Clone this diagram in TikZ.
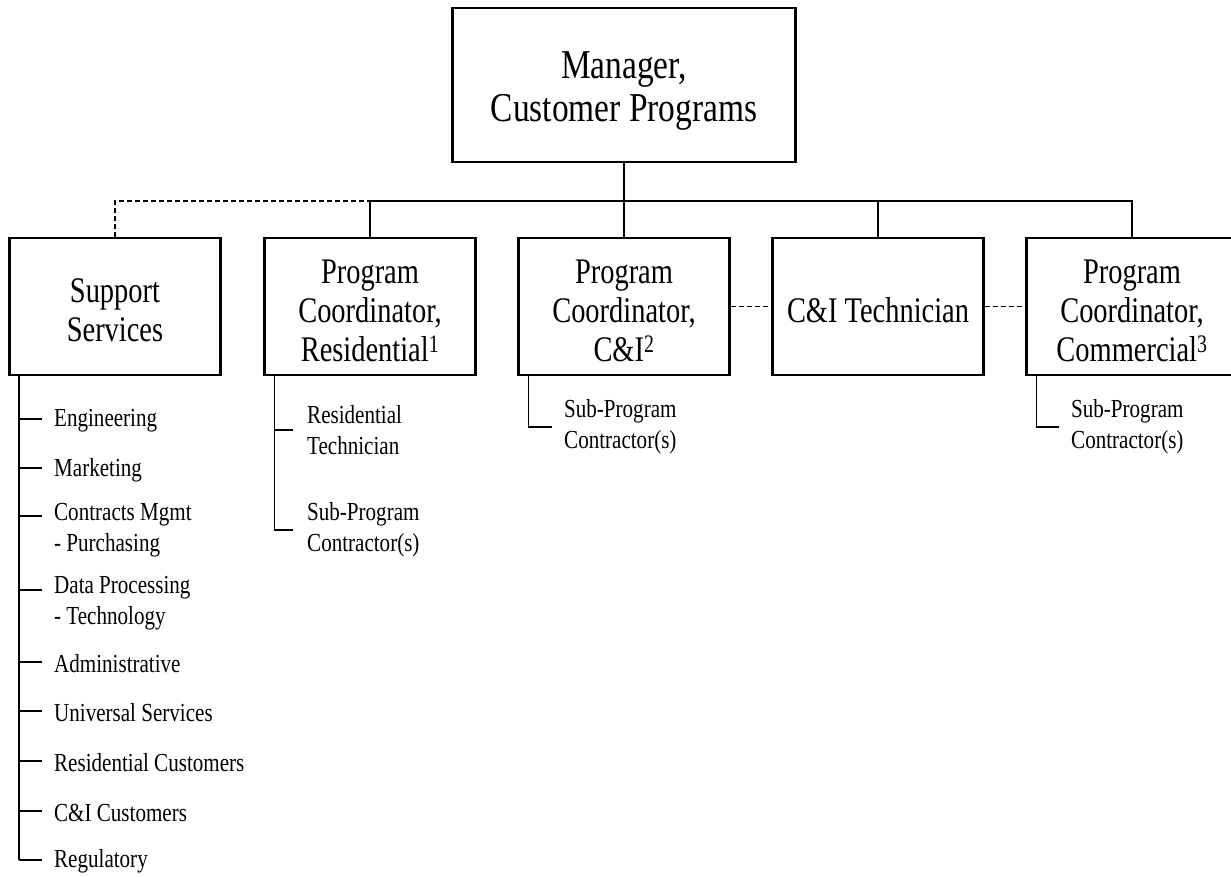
\documentclass[tikz,border=0pt]{standalone}
\usepackage{fontspec}
\setmainfont{Liberation Serif}
\newfontfamily\topfont[FakeStretch=0.815]{Liberation Serif}
\newfontfamily\boxfont[FakeStretch=0.79]{Liberation Serif}
\newfontfamily\itemfont[FakeStretch=0.81]{Liberation Serif}
\begin{document}
\begin{tikzpicture}[x=1pt,y=-1pt,
  orgbox/.style={draw, line width=2.6pt, minimum width=211pt, minimum height=137pt,
    inner sep=0pt},
  topbox/.style={orgbox, minimum width=343pt, minimum height=154pt},
  boxtext/.style={align=center, inner sep=0pt, yshift=-4pt,
    font={\boxfont\fontsize{36}{39}\selectfont}},
  toptext/.style={align=center, inner sep=0pt, yshift=-6pt,
    font={\topfont\fontsize{41}{43}\selectfont}},
  conn/.style={line width=1.2pt},
  spine/.style={line width=1.8pt},
  dashconn/.style={line width=1.2pt, dash pattern=on 5pt off 3pt},
  item/.style={anchor=west, align=left, inner xsep=12pt, inner ysep=0pt,
    font={\itemfont\fontsize{26}{31}\selectfont}},
  itemb/.style={item, inner xsep=14pt}]
\useasboundingbox (0,0) rectangle (1231,876);
\fill[white] (0,0) rectangle (1231,876);

% boxes
\node[topbox, label={[toptext]center:{Manager,\\Customer Programs}}] (mgr) at (624,85) {};
\node[orgbox, label={[boxtext]center:{Support\\Services}}] (sup) at (115,306.5) {};
\node[orgbox, label={[boxtext]center:{Program\\Coordinator,\\Residential\textsuperscript{1}}}] (res) at (370,306.5) {};
\node[orgbox, label={[boxtext]center:{Program\\Coordinator,\\C\&I\textsuperscript{2}}}] (ci) at (624,306.5) {};
\node[orgbox, label={[boxtext]center:{C\&I Technician}}] (tech) at (878,306.5) {};
\node[orgbox, label={[boxtext]center:{Program\\Coordinator,\\Commercial\textsuperscript{3}}}] (com) at (1132,306.5) {};

% bus
\coordinate (bus) at (0,201);
\draw[conn] (mgr.south) -- (ci.north);
\draw[conn] (res.north) -- (res.north |- bus) -- (com.north |- bus) -- (com.north);
\draw[conn] (tech.north) -- (tech.north |- bus);
\draw[dashconn] (sup.north) -- (sup.north |- bus) -- (res.north |- bus);
\draw[dashconn] (ci.east) -- (tech.west);
\draw[dashconn] (tech.east) -- (com.west);

% support services list
\coordinate (sps) at ([xshift=11pt]sup.south west);
\node[item] (eng) at (42,421) {Engineering};
\node[item] (mkt) at (42,470) {Marketing};
\node[item] (cmg) at (42,530) {Contracts Mgmt\\- Purchasing};
\node[item] (dpt) at (42,603) {Data Processing\\- Technology};
\node[item] (adm) at (42,664) {Administrative};
\node[item] (uni) at (42,713) {Universal Services};
\node[item] (rcu) at (42,763) {Residential Customers};
\node[item] (ccu) at (42,813) {C\&I Customers};
\node[item] (reg) at (42,861) {Regulatory};
\coordinate (cmgt) at ([yshift=14pt]cmg.west);
\coordinate (dptt) at ([yshift=13pt]dpt.west);
\coordinate (engt) at ([yshift=2pt]eng.west);
\coordinate (mktt) at ([yshift=2pt]mkt.west);
\coordinate (admt) at ([yshift=2pt]adm.west);
\coordinate (unit) at ([yshift=2pt]uni.west);
\coordinate (rcut) at ([yshift=2pt]rcu.west);
\coordinate (ccut) at ([yshift=2pt]ccu.west);
\coordinate (regt) at ([yshift=1pt]reg.west);
\draw[spine] (sps) -- (sps |- regt);
\draw[conn] (sps |- regt) -- (regt);
\foreach \n in {engt,mktt,cmgt,dptt,admt,unit,rcut,ccut}
  \draw[conn] (sps |- \n) -- (\n);

% residential list
\coordinate (rss) at ([xshift=11pt]res.south west);
\node[itemb] (rte) at (293,430) {Residential\\Technician};
\node[itemb] (rsp) at (293,530) {Sub-Program\\Contractor(s)};
\draw[conn] (rss) -- (rss |- rsp.west) -- (rsp.west);
\draw[conn] (rss |- rte.west) -- (rte.west);

% C&I list
\coordinate (css) at ([xshift=11pt]ci.south west);
\node[item] (csp) at (552,427) {Sub-Program\\Contractor(s)};
\draw[conn] (css) -- (css |- csp.west) -- (csp.west);

% Commercial list
\coordinate (mss) at ([xshift=11pt]com.south west);
\node[item] (msp) at (1059,427) {Sub-Program\\Contractor(s)};
\draw[conn] (mss) -- (mss |- msp.west) -- (msp.west);
\end{tikzpicture}
\end{document}
